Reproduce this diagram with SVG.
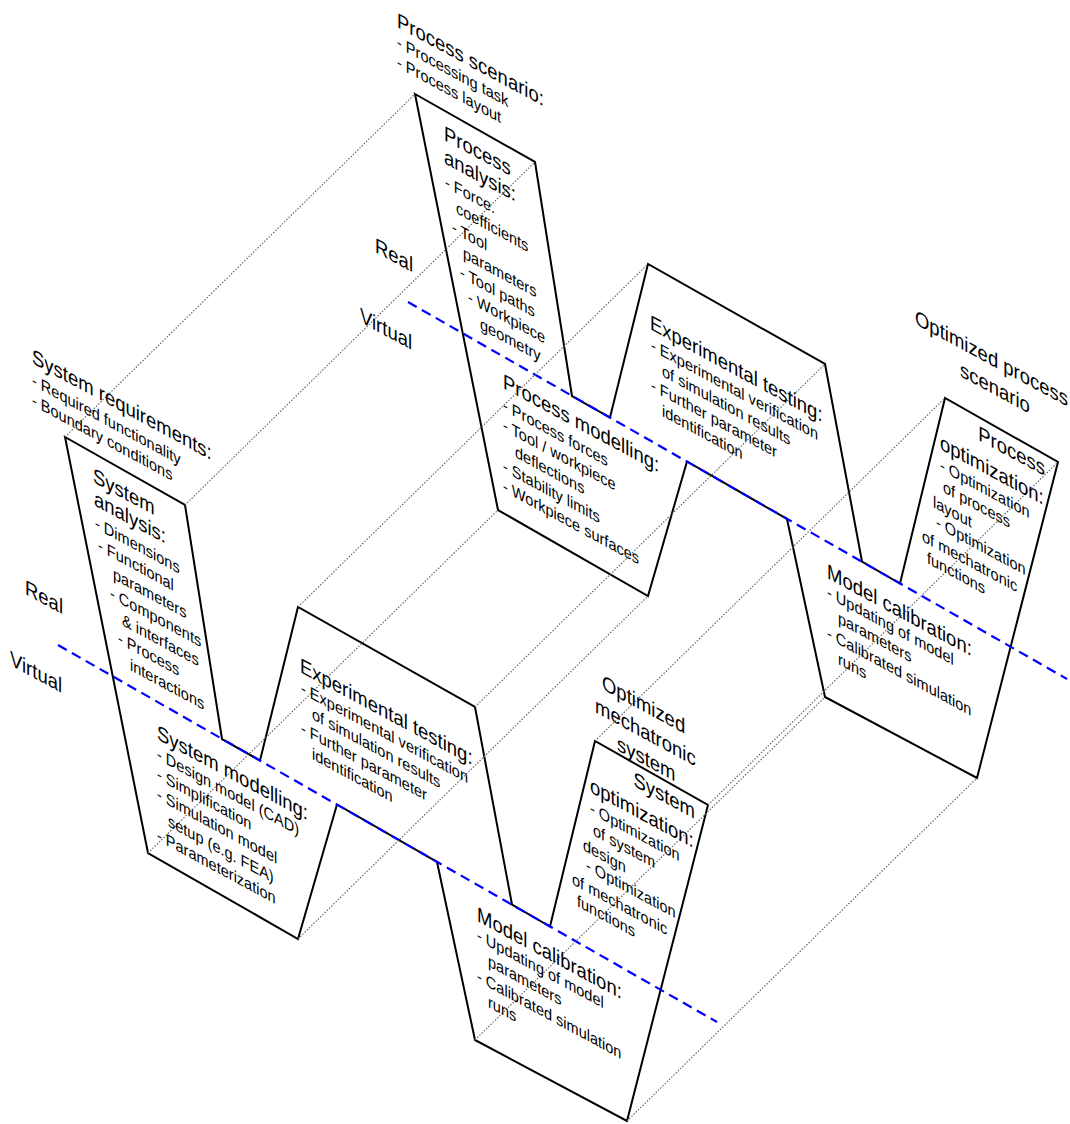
<svg xmlns="http://www.w3.org/2000/svg" width="1070" height="1124" viewBox="0 0 1070 1124">
<style>
.edge{fill:none;stroke:#000;stroke-width:2;stroke-linejoin:miter}
.hid{stroke:#6a6a6a;stroke-width:1.2;stroke-dasharray:1.5 1.6;fill:none}
.fold{stroke:#0000ff;stroke-width:2.2;stroke-dasharray:10 6;fill:none}
text{font-family:"Liberation Sans",Arial,sans-serif;fill:#000}
.h{font-size:21px}
.b{font-size:16.5px}
</style>
<defs>
<path id="strip" d="M65,437 L185,505 L222,739 L260,760.5 L298,607 L475,707 L512,904.5 L550,926.5 L595,741 L708,805 L627,1121 L475,1040 L437,862 L337,804.5 L298,939 L148,853 Z"/>
</defs>
<rect width="1070" height="1124" fill="#fff"/>
<g id="outlines">
<use href="#strip" class="edge"/>
<use href="#strip" class="edge" transform="translate(350,-343)"/>
</g>
<g id="connectors">
<path class="fold" d="M58,645 L717,1022"/>
<path class="fold" d="M408,302 L1067,679"/>
<path class="hid" d="M65,437 L415,94 M185,505 L535,162 M298,607 L648,264 M475,707 L825,364 M595,741 L945,398 M708,805 L1058,462 M148,853 L498,510 M298,939 L648,596 M475,1040 L825,697 M627,1121 L977,778"/>
</g>
<g id="process-scenario">
<text class="h" transform="matrix(0.88 0.476 0 1 397 27)">Process scenario:</text>
<text class="b" transform="matrix(0.88 0.476 0 1 397 47)">- Processing task</text>
<text class="b" transform="matrix(0.88 0.476 0 1 397 67)">- Process layout</text>
</g>
<g id="process-analysis">
<text class="h" transform="matrix(0.88 0.476 0 1 444 140)">Process</text>
<text class="h" transform="matrix(0.88 0.476 0 1 444 163)">analysis:</text>
<text class="b" transform="matrix(0.88 0.476 0 1 445 187)">- Force.</text>
<text class="b" transform="matrix(0.88 0.476 0 1 456 213)">coefficients</text>
<text class="b" transform="matrix(0.88 0.476 0 1 452 232)">- Tool</text>
<text class="b" transform="matrix(0.88 0.476 0 1 463 258)">parameters</text>
<text class="b" transform="matrix(0.88 0.476 0 1 460 277)">- Tool paths</text>
<text class="b" transform="matrix(0.88 0.476 0 1 468 302)">- Workpiece</text>
<text class="b" transform="matrix(0.88 0.476 0 1 480 329)">geometry</text>
</g>
<g id="process-real-virtual">
<text class="h" transform="matrix(0.88 0.476 0 1 375 252)">Real</text>
<text class="h" transform="matrix(0.88 0.476 0 1 360 322)">Virtual</text>
</g>
<g id="process-experimental-testing">
<text class="h" transform="matrix(0.88 0.476 0 1 650 329)">Experimental testing:</text>
<text class="b" transform="matrix(0.88 0.476 0 1 651 350)">- Experimental verification</text>
<text class="b" transform="matrix(0.88 0.476 0 1 662 376)">of simulation results</text>
<text class="b" transform="matrix(0.88 0.476 0 1 651 390)">- Further parameter</text>
<text class="b" transform="matrix(0.88 0.476 0 1 662 416)">identification</text>
</g>
<g id="process-modelling">
<text class="h" transform="matrix(0.88 0.476 0 1 503 388)">Process modelling:</text>
<text class="b" transform="matrix(0.88 0.476 0 1 503 410)">- Process forces</text>
<text class="b" transform="matrix(0.88 0.476 0 1 503 430)">- Tool / workpiece</text>
<text class="b" transform="matrix(0.88 0.476 0 1 515 457)">deflections</text>
<text class="b" transform="matrix(0.88 0.476 0 1 503 471)">- Stability limits</text>
<text class="b" transform="matrix(0.88 0.476 0 1 503 491)">- Workpiece surfaces</text>
</g>
<g id="process-model-calibration">
<text class="h" transform="matrix(0.88 0.476 0 1 827 578)">Model calibration:</text>
<text class="b" transform="matrix(0.88 0.476 0 1 827 597)">- Updating of model</text>
<text class="b" transform="matrix(0.88 0.476 0 1 838 623)">parameters</text>
<text class="b" transform="matrix(0.88 0.476 0 1 827 638)">- Calibrated simulation</text>
<text class="b" transform="matrix(0.88 0.476 0 1 838 664)">runs</text>
</g>
<g id="process-optimization">
<text class="h" text-anchor="end" transform="matrix(0.88 0.476 0 1 1045 476)">Process</text>
<text class="h" transform="matrix(0.88 0.476 0 1 940 449)">optimization:</text>
<text class="b" transform="matrix(0.88 0.476 0 1 940 470)">- Optimization</text>
<text class="b" transform="matrix(0.88 0.476 0 1 943 492)">of process</text>
<text class="b" transform="matrix(0.88 0.476 0 1 933 507)">layout</text>
<text class="b" transform="matrix(0.88 0.476 0 1 936 527)">- Optimization</text>
<text class="b" transform="matrix(0.88 0.476 0 1 922 541)">of mechatronic</text>
<text class="b" transform="matrix(0.88 0.476 0 1 927 563)">functions</text>
</g>
<g id="optimized-process-scenario">
<text class="h" transform="matrix(0.88 0.476 0 1 915 324)">Optimized process</text>
<text class="h" transform="matrix(0.88 0.476 0 1 960 376)">scenario</text>
</g>
<g id="system-requirements">
<text class="h" transform="matrix(0.88 0.476 0 1 32 363)">System requirements:</text>
<text class="b" transform="matrix(0.88 0.476 0 1 32 385)">- Required functionality</text>
<text class="b" transform="matrix(0.88 0.476 0 1 32 405)">- Boundary conditions</text>
</g>
<g id="system-analysis">
<text class="h" transform="matrix(0.88 0.476 0 1 93 482)">System</text>
<text class="h" transform="matrix(0.88 0.476 0 1 94 505)">analysis:</text>
<text class="b" transform="matrix(0.88 0.476 0 1 95 528)">- Dimensions</text>
<text class="b" transform="matrix(0.88 0.476 0 1 98 550)">- Functional</text>
<text class="b" transform="matrix(0.88 0.476 0 1 113 579)">parameters</text>
<text class="b" transform="matrix(0.88 0.476 0 1 110 598)">- Components</text>
<text class="b" transform="matrix(0.88 0.476 0 1 122 625)">&amp; interfaces</text>
<text class="b" transform="matrix(0.88 0.476 0 1 118 643)">- Process</text>
<text class="b" transform="matrix(0.88 0.476 0 1 130 670)">interactions</text>
</g>
<g id="system-real-virtual">
<text class="h" transform="matrix(0.88 0.476 0 1 25 594)">Real</text>
<text class="h" transform="matrix(0.88 0.476 0 1 10 665)">Virtual</text>
</g>
<g id="system-experimental-testing">
<text class="h" transform="matrix(0.88 0.476 0 1 300 672)">Experimental testing:</text>
<text class="b" transform="matrix(0.88 0.476 0 1 301 693)">- Experimental verification</text>
<text class="b" transform="matrix(0.88 0.476 0 1 312 719)">of simulation results</text>
<text class="b" transform="matrix(0.88 0.476 0 1 301 733)">- Further parameter</text>
<text class="b" transform="matrix(0.88 0.476 0 1 312 759)">identification</text>
</g>
<g id="system-modelling">
<text class="h" transform="matrix(0.88 0.476 0 1 157 739)">System modelling:</text>
<text class="b" transform="matrix(0.88 0.476 0 1 157 759)">- Design model (CAD)</text>
<text class="b" transform="matrix(0.88 0.476 0 1 157 779)">- Simplification</text>
<text class="b" transform="matrix(0.88 0.476 0 1 157 799)">- Simulation model</text>
<text class="b" transform="matrix(0.88 0.476 0 1 168 826)">setup (e.g. FEA)</text>
<text class="b" transform="matrix(0.88 0.476 0 1 157 840)">- Parameterization</text>
</g>
<g id="system-model-calibration">
<text class="h" transform="matrix(0.88 0.476 0 1 477 921)">Model calibration:</text>
<text class="b" transform="matrix(0.88 0.476 0 1 477 940)">- Updating of model</text>
<text class="b" transform="matrix(0.88 0.476 0 1 488 966)">parameters</text>
<text class="b" transform="matrix(0.88 0.476 0 1 477 981)">- Calibrated simulation</text>
<text class="b" transform="matrix(0.88 0.476 0 1 488 1007)">runs</text>
</g>
<g id="system-optimization">
<text class="h" text-anchor="end" transform="matrix(0.88 0.476 0 1 695 819)">System</text>
<text class="h" transform="matrix(0.88 0.476 0 1 590 792)">optimization:</text>
<text class="b" transform="matrix(0.88 0.476 0 1 590 813)">- Optimization</text>
<text class="b" transform="matrix(0.88 0.476 0 1 593 835)">of system</text>
<text class="b" transform="matrix(0.88 0.476 0 1 583 850)">design</text>
<text class="b" transform="matrix(0.88 0.476 0 1 586 870)">- Optimization</text>
<text class="b" transform="matrix(0.88 0.476 0 1 572 884)">of mechatronic</text>
<text class="b" transform="matrix(0.88 0.476 0 1 577 906)">functions</text>
</g>
<g id="optimized-mechatronic-system">
<text class="h" transform="matrix(0.88 0.476 0 1 602 689)">Optimized</text>
<text class="h" transform="matrix(0.88 0.476 0 1 595 712)">mechatronic</text>
<text class="h" transform="matrix(0.88 0.476 0 1 617 750)">system</text>
</g>
</svg>
